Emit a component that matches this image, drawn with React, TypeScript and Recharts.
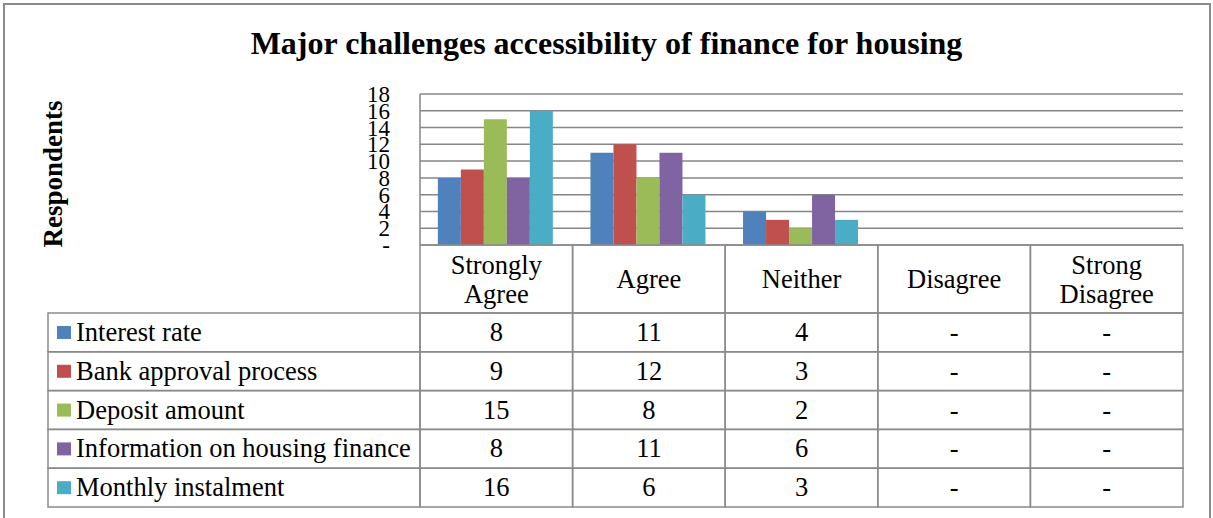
import { BarChart, Bar, XAxis, YAxis, CartesianGrid } from "recharts";

const categories = ["Strongly Agree", "Agree", "Neither", "Disagree", "Strong Disagree"];
const categoryLines = [["Strongly", "Agree"], ["Agree"], ["Neither"], ["Disagree"], ["Strong", "Disagree"]];

const seriesNames = [
  "Interest rate",
  "Bank approval process",
  "Deposit amount",
  "Information on housing finance",
  "Monthly instalment",
];
const interestRate = [8, 11, 4, 0, 0];
const bankApproval = [9, 12, 3, 0, 0];
const depositAmount = [15, 8, 2, 0, 0];
const housingInfo = [8, 11, 6, 0, 0];
const monthlyInstalment = [16, 6, 3, 0, 0];
const yTicks = [0, 2, 4, 6, 8, 10, 12, 14, 16, 18];

const seriesValues = [interestRate, bankApproval, depositAmount, housingInfo, monthlyInstalment];
const KEYS = ["s0", "s1", "s2", "s3", "s4"];
const COLORS = ["#4F81BD", "#C0504D", "#9BBB59", "#8064A2", "#4BACC6"];

const data = categories.map((name, i) => {
  const row: any = { name };
  KEYS.forEach((k, s) => (row[k] = seriesValues[s][i]));
  return row;
});

const W = 1213;
const H = 518;
const PLOT_LEFT = 420;
const PLOT_RIGHT = 1183;
const PLOT_TOP = 94;
const PLOT_BOTTOM = 245;
const BAND = (PLOT_RIGHT - PLOT_LEFT) / categories.length;
const HEADER_H = 68;
const ROW_H = 38.8;
const TABLE_LEFT = 48;
const LINE = "#8a8a8a";
const FONT = "Liberation Serif";
const FS = 26.5;
const dash = (v: number) => (v === 0 ? "-" : String(v));

// y labels sit right-aligned left of the axis, overlapping like the original
function YTick({ x, y, payload }: any) {
  return (
    <text x={x} y={y + 8} textAnchor="end" fontFamily={FONT} fontSize={23} fill="#000">
      {dash(payload.value)}
    </text>
  );
}

// each category tick draws its column of the data table; the first one also draws the legend column
function TableTick({ x, y, payload, index }: any) {
  const i = payload?.index ?? index;
  const left = x - BAND / 2;
  const lines = categoryLines[i];
  const rows = seriesValues.map((vals, s) => {
    const top = y + HEADER_H + s * ROW_H;
    return (
      <g key={s}>
        <rect x={left} y={top} width={BAND} height={ROW_H} fill="none" stroke={LINE} strokeWidth={1.5} />
        <text x={x} y={top + 28} textAnchor="middle" fontFamily={FONT} fontSize={FS} fill="#000">{dash(vals[i])}</text>
      </g>
    );
  });
  const legend = i === 0 ? seriesNames.map((name, s) => {
    const top = y + HEADER_H + s * ROW_H;
    return (
      <g key={"l" + s}>
        <rect x={TABLE_LEFT} y={top} width={left - TABLE_LEFT} height={ROW_H} fill="none" stroke={LINE} strokeWidth={1.5} />
        <rect x={TABLE_LEFT + 9} y={top + 13} width={14} height={13} fill={COLORS[s]} />
        <text x={TABLE_LEFT + 28} y={top + 28} fontFamily={FONT} fontSize={FS} fill="#000">{name}</text>
      </g>
    );
  }) : null;
  return (
    <g>
      <rect x={left} y={y} width={BAND} height={HEADER_H} fill="none" stroke={LINE} strokeWidth={1.5} />
      {lines.length === 1 ? (
        <text x={x} y={y + 43} textAnchor="middle" fontFamily={FONT} fontSize={FS} fill="#000">{lines[0]}</text>
      ) : (
        lines.map((t, k) => (
          <text key={k} x={x} y={y + 29 + k * 29} textAnchor="middle" fontFamily={FONT} fontSize={FS} fill="#000">{t}</text>
        ))
      )}
      {rows}
      {legend}
    </g>
  );
}

export default function App() {
  return (
    <div style={{ position: "absolute", left: 0, top: 0, width: W, height: H, background: "#fff", overflow: "hidden" }}>
      <div style={{ position: "absolute", left: 3, top: 3, width: W - 5, height: H + 10, border: "2px solid #8c8c8c", boxSizing: "border-box" }} />
      <div style={{ position: "absolute", left: 0, top: 27, width: W, textAlign: "center", fontFamily: FONT, fontWeight: "bold", fontSize: 32, lineHeight: 1, color: "#000" }}>
        Major challenges accessibility of finance for housing
      </div>
      <div style={{ position: "absolute", left: 53, top: 174, transform: "translate(-50%,-50%) rotate(-90deg)", fontFamily: FONT, fontWeight: "bold", fontSize: 27, lineHeight: 1, whiteSpace: "nowrap", color: "#000" }}>
        Respondents
      </div>
      <div style={{ position: "absolute", left: 0, top: 0 }}>
        <BarChart width={W} height={H} data={data} barGap={0} barCategoryGap="11.7%"
          margin={{ top: PLOT_TOP, right: W - PLOT_RIGHT, left: 0, bottom: H - PLOT_BOTTOM - 262 }}>
          <CartesianGrid horizontal vertical={false} stroke="#868686" strokeWidth={1.5} />
          <XAxis dataKey="name" height={262} axisLine={false} tickLine={false} tickSize={0} tickMargin={0}
            interval={0} tick={<TableTick />} />
          <YAxis width={PLOT_LEFT} domain={[0, 18]} ticks={yTicks} interval={0} tickLine={false} tickSize={0}
            tickMargin={30} axisLine={{ stroke: "#868686", strokeWidth: 1.5 }} tick={<YTick />} />
          {KEYS.map((k, s) => (
            <Bar key={k} dataKey={k} name={seriesNames[s]} fill={COLORS[s]} isAnimationActive={false} />
          ))}
        </BarChart>
      </div>
    </div>
  );
}
